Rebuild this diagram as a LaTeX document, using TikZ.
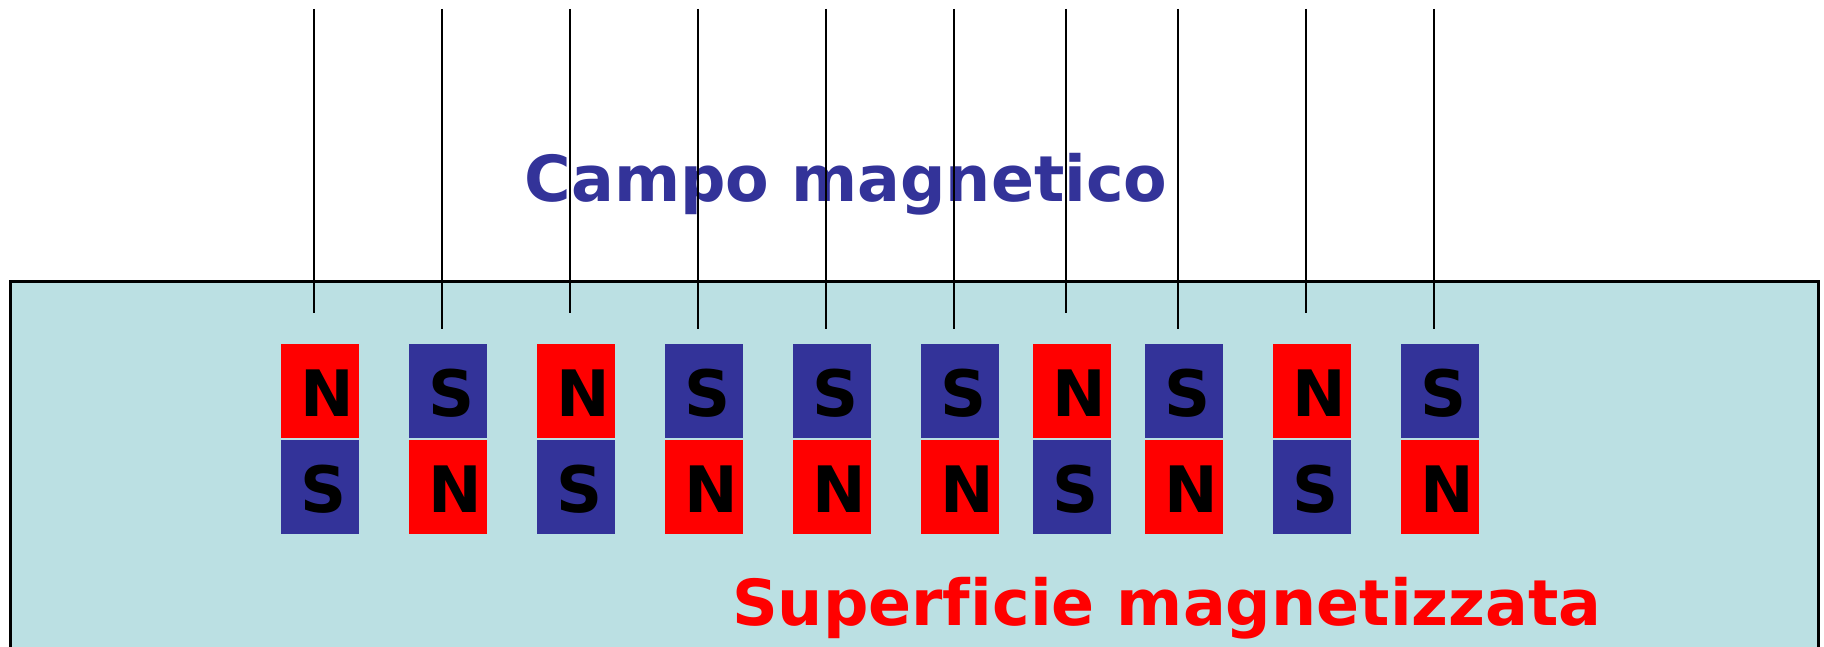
\documentclass[tikz,border=0pt]{standalone}
\usepackage{fontspec}
\setmainfont[Ligatures={NoCommon}]{DejaVu Sans}
\definecolor{bg}{HTML}{BBE0E3}
\definecolor{pblue}{HTML}{333399}
\definecolor{pred}{HTML}{FF0000}
\begin{document}
\begin{tikzpicture}[x=1pt,y=-1pt,
  magbox/.style={minimum width=78pt, minimum height=93.7pt, inner sep=0pt, outer sep=0pt, anchor=north west},
  boxN/.style={magbox, fill=pred},
  boxS/.style={magbox, fill=pblue},
  pole/.style={font=\fontsize{64}{64}\selectfont\bfseries, inner sep=0pt, anchor=base, text=black},
  letterN/.style={pole, xshift=7pt},
  letterS/.style={pole, xshift=3.5pt},
  fieldline/.style={draw=black, line width=2pt},
  title/.style={font=\fontsize{63.5}{64}\selectfont\bfseries, inner sep=0pt, anchor=base}]
\useasboundingbox (0,0) rectangle (1824,647);
\node[draw=black, line width=2.5pt, fill=bg, minimum width=1808pt, minimum height=400pt, inner sep=0pt, anchor=north west] (surface) at (9,280.5) {};
\node[title, text=pblue] (campo) at (846,202) {Campo magnetico};
\node[title, text=pred] (superficie) at (1167,625) {Superficie magnetizzata};
\foreach \l/\t/\b/\len [count=\i] in {281/N/S/312.7, 409/S/N/328.7, 537/N/S/312.7, 665/S/N/328.7, 793/S/N/328.7, 921/S/N/328.7, 1033/N/S/312.7, 1145/S/N/328.7, 1273/N/S/312.7, 1401/S/N/328.7}{
  \node[box\t] (top\i) at (\l,344) {};
  \node[box\b] (bot\i) at (\l,440) {};
  \node[letter\t] (lt\i) at (\l+39,416.7) {\t};
  \node[letter\b] (lb\i) at (\l+39,512.7) {\b};
  \coordinate (ftop\i) at (\l+32.5,9);
  \coordinate (fend\i) at (\l+32.5,\len);
  \draw[fieldline] (ftop\i) -- (fend\i);
}
\end{tikzpicture}
\end{document}
